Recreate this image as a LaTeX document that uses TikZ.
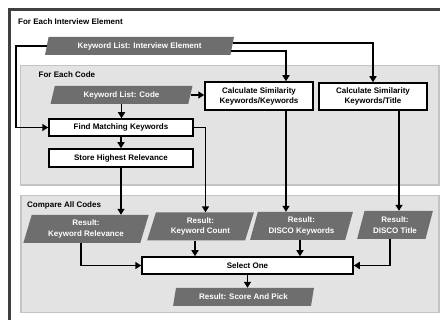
\documentclass[tikz,border=0pt]{standalone}
\usepackage{fontspec}
\setmainfont{Liberation Sans}
\usetikzlibrary{shapes.geometric,arrows.meta,calc}
\definecolor{frameC}{HTML}{404040}
\definecolor{panelF}{HTML}{E3E3E3}
\definecolor{panelB}{HTML}{C4C4C4}
\definecolor{paraF}{HTML}{6E6E6E}
\tikzset{
  txt/.style={font=\fontsize{8}{10}\selectfont\bfseries},
  panel/.style={fill=panelF, draw=panelB, line width=1.6pt},
  wbox/.style={txt, draw=black, fill=white, line width=1.5pt, align=center, inner sep=0pt},
  para/.style={txt, text=white, fill=paraF, shape=trapezium, trapezium left angle=72,
     trapezium right angle=108, trapezium stretches=true, align=center, inner sep=0pt,
     font=\fontsize{8}{10.5}\selectfont\bfseries},
  arr/.style={line width=1.5pt, -{Triangle[length=6pt,width=7pt]}},
  ln/.style={line width=1.5pt},
  ptitle/.style={txt, anchor=west, inner sep=0pt}
}
\begin{document}
\begin{tikzpicture}[x=1pt,y=-1pt]
\useasboundingbox (0,0) rectangle (440,320);
\fill[white] (0,0) rectangle (440,320);
% outer frame
\draw[frameC, line width=2.8pt] (9.5,330) -- (9.5,9.5) -- (450,9.5);
\node[ptitle] (t1) at (18,22) {For Each Interview Element};
% panels
\draw[panel] (20.5,65.5) rectangle (439,185);
\draw[panel] (21,195.5) rectangle (439,312.5);
\node[ptitle] (t2) at (38.5,75) {For Each Code};
\node[ptitle] (t3) at (27,205) {Compare All Codes};
% nodes
\node[para, minimum width=189pt, minimum height=18pt] (kie) at (139.5,46) {Keyword List: Interview Element};
\node[para, minimum width=143pt, minimum height=18pt] (kc) at (121.5,95) {Keyword List: Code};
\node[wbox, minimum width=108pt, minimum height=28pt] (kw) at (259,96) {Calculate Similarity\\Keywords/Keywords};
\node[wbox, minimum width=108pt, minimum height=27pt] (title) at (373,96.5) {Calculate Similarity\\Keywords/Title};
\node[wbox, minimum width=144pt, minimum height=17pt] (find) at (121,127.5) {Find Matching Keywords};
\node[wbox, minimum width=144pt, minimum height=18pt] (store) at (121,158) {Store Highest Relevance};
\node[para, minimum width=126pt, minimum height=28pt] (kr) at (86,229) {Result:\\Keyword Relevance};
\node[para, minimum width=107pt, minimum height=28pt] (kcr) at (200.5,226.5) {Result:\\Keyword Count};
\node[para, minimum width=103pt, minimum height=28pt] (dk) at (301.5,226) {Result:\\DISCO Keywords};
\node[para, minimum width=76pt, minimum height=28pt] (dt) at (395,225) {Result:\\DISCO Title};
\node[wbox, minimum width=211pt, minimum height=17pt] (sel) at (247.5,265.5) {Select One};
\node[para, minimum width=141pt, minimum height=18pt] (score) at (243.5,297) {Result: Score And Pick};
\coordinate (lft) at (16,0);
% connectors
\draw[arr] ($(kie.top right corner)!0.33!(kie.bottom right corner)$) -| (title.north);
\draw[arr] ($(kie.top right corner)!0.78!(kie.bottom right corner)$) -| ([xshift=27pt]kw.north);
\draw[arr] (kie.west) -- (kie.west -| lft) |- (find.west);
\draw[arr] (kc.east) -- (kw.west |- kc.east);
\draw[arr] (kc.south) -- (kc.south |- find.north);
\draw[arr] (find.south) -- (store.north);
\draw[arr] (find.east) -| ([xshift=5pt]kcr.north);
\draw[arr] (store.south) -- (store.south |- kr.north);
\draw[arr] ([xshift=27pt]kw.south) -- ([xshift=27pt]kw.south |- dk.north);
\draw[arr] ([xshift=26pt]title.south) -- ([xshift=26pt]title.south |- dt.north);
\draw[arr] ([xshift=-5pt]kr.south) |- (sel.west);
\draw[arr] ([xshift=-5.5pt]kcr.south) -- ([xshift=-5.5pt]kcr.south |- sel.north);
\draw[arr] ([xshift=-1.5pt]dk.south) -- ([xshift=-1.5pt]dk.south |- sel.north);
\draw[arr] ([xshift=-5pt]dt.south) |- (sel.east);
\draw[arr] (sel.south) -- (sel.south |- score.north);
\end{tikzpicture}
\end{document}
